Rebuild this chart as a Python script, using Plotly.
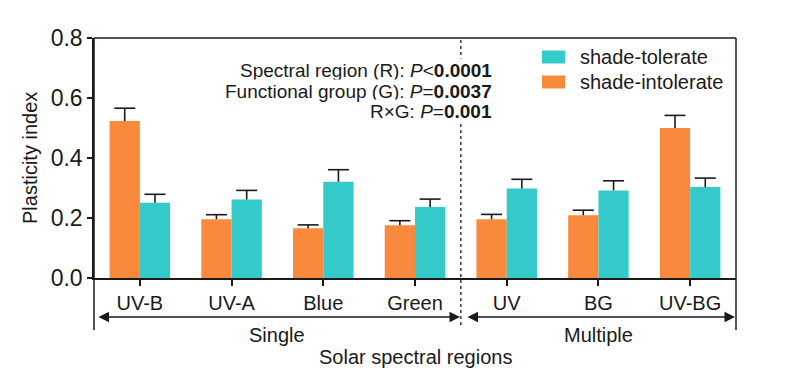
import plotly.graph_objects as go

# ---------------- data ----------------
categories = ["UV-B", "UV-A", "Blue", "Green", "UV", "BG", "UV-BG"]
intolerant = [0.523, 0.196, 0.166, 0.176, 0.196, 0.209, 0.500]
intolerant_err = [0.043, 0.015, 0.011, 0.015, 0.016, 0.017, 0.042]
tolerant = [0.251, 0.262, 0.321, 0.237, 0.298, 0.292, 0.303]
tolerant_err = [0.028, 0.030, 0.040, 0.026, 0.031, 0.032, 0.030]
series_names = ["shade-tolerate", "shade-intolerate"]
groups = ["Single", "Multiple"]
group_sizes = [4, 3]
y_ticks = [0.0, 0.2, 0.4, 0.6, 0.8]
stats_lines = [
    "Spectral region (R): <i>P</i>&lt;<b>0.0001</b>",
    "Functional group (G): <i>P</i>=<b>0.0037</b>",
    "R×G: <i>P</i>=<b>0.001</b>",
]

# ---------------- style ----------------
OFF = 8  # page body margin in the browser
W, H = 800 - OFF, 388 - OFF
ML, MR, MT, MB = 94 - OFF, 64, 38 - OFF, 110
PW, PH = W - ML - MR, H - MT - MB
ORANGE = "#F98A3D"
TEAL = "#35CACA"
INK = "#1a1a1a"
FONT = "Liberation Sans, Arial, sans-serif"
BW = 0.33

def px(x):  # screen pixel -> paper x
    return (x - OFF - ML) / PW

def py(y):  # screen pixel -> paper y
    return (H - MB - (y - OFF)) / PH

xs = list(range(len(categories)))
n = len(categories)

fig = go.Figure()
series = [
    (intolerant, intolerant_err, ORANGE, -BW, series_names[1]),
    (tolerant, tolerant_err, TEAL, 0.0, series_names[0]),
]
for vals, errs, col, off, nm in series:
    fig.add_trace(go.Bar(
        x=xs, y=vals, width=BW, offset=off, name=nm, showlegend=False,
        marker=dict(color=col, line=dict(width=0)),
        error_y=dict(type="data", symmetric=False, array=errs, arrayminus=[0] * n,
                     color=INK, thickness=1.6, width=0),
    ))
# error-bar caps
for vals, errs, col, off, nm in series:
    fig.add_trace(go.Scatter(
        x=[x + off + BW / 2 for x in xs], y=[v + e for v, e in zip(vals, errs)],
        mode="markers", showlegend=False, hoverinfo="skip",
        marker=dict(symbol="line-ew", size=15, line=dict(color=INK, width=1.6)),
    ))

shapes = []
ybot = py(330)
# left / right frame lines extended below the axis
shapes.append(dict(type="line", xref="paper", yref="paper", x0=0, x1=0, y0=ybot, y1=1, line=dict(color=INK, width=1.5)))
shapes.append(dict(type="line", xref="paper", yref="paper", x0=1, x1=1, y0=ybot, y1=1, line=dict(color=INK, width=1.5)))
shapes.append(dict(type="line", xref="paper", yref="paper", x0=0, x1=1, y0=1, y1=1, line=dict(color=INK, width=1.5)))
# dotted split line
split = group_sizes[0] - 0.5
xsplit = (split + 0.5) / n
shapes.append(dict(type="line", xref="paper", yref="paper", x0=xsplit, x1=xsplit, y0=py(325), y1=1,
                   line=dict(color=INK, width=1.3, dash="dot")))

annotations = []
# legend (custom swatches)
for i, (nm, col) in enumerate(zip(series_names, [TEAL, ORANGE])):
    yc = 57 + 25 * i
    shapes.append(dict(type="rect", xref="paper", yref="paper", x0=px(542), x1=px(565), y0=py(yc + 6.5),
                       y1=py(yc - 6.5), fillcolor=col, line=dict(width=0)))
    annotations.append(dict(xref="paper", yref="paper", x=px(578), y=py(yc), xanchor="left", yanchor="middle",
                            text=nm, showarrow=False, font=dict(size=20, color=INK, family=FONT)))
# stats text (white background hides the dotted line behind it)
for i, t in enumerate(stats_lines):
    annotations.append(dict(xref="paper", yref="paper", x=px(494), y=py(71 + 20.3 * i), xanchor="right",
                            yanchor="middle", text=t, showarrow=False, bgcolor="white", borderpad=1,
                            font=dict(size=19, color=INK, family=FONT)))
# group arrows
ya = py(317)
for x_head, x_tail in [(460, 97), (735, 466)]:
    annotations.append(dict(xref="paper", yref="paper", x=px(x_head), y=ya, ax=x_tail - x_head, ay=0,
                            axref="pixel", ayref="pixel", text="", showarrow=True, arrowhead=2,
                            arrowside="end+start", arrowsize=1.4, arrowwidth=1.5, arrowcolor=INK,
                            standoff=0, startstandoff=0))
# group labels
start = 0
for g, s in zip(groups, group_sizes):
    c = (start + (start + s - 1)) / 2
    annotations.append(dict(xref="x", yref="paper", x=c, y=py(335), text=g, showarrow=False,
                            font=dict(size=20, color=INK, family=FONT), yanchor="middle"))
    start += s
# axis titles
annotations.append(dict(xref="paper", yref="paper", x=0.5, y=py(357), text="Solar spectral regions", showarrow=False,
                        font=dict(size=20, color=INK, family=FONT), yanchor="middle"))
annotations.append(dict(xref="paper", yref="paper", x=px(30), y=0.5, text="Plasticity index", showarrow=False,
                        textangle=-90, font=dict(size=20, color=INK, family=FONT), xanchor="center", yanchor="middle"))

fig.update_layout(
    width=W, height=H,
    margin=dict(l=ML, r=MR, t=MT, b=MB, pad=0, autoexpand=False),
    plot_bgcolor="white", paper_bgcolor="white",
    barmode="overlay",
    font=dict(family=FONT, color=INK),
    showlegend=False,
    shapes=shapes,
    annotations=annotations,
    xaxis=dict(range=[-0.5, n - 0.5], tickvals=xs, ticktext=categories, showline=True, linecolor=INK, linewidth=1.5,
               ticks="outside", ticklen=6, tickwidth=1.5, tickcolor=INK, showgrid=False, zeroline=False,
               tickfont=dict(size=20, color=INK, family=FONT), fixedrange=True, automargin=False),
    yaxis=dict(range=[0, 0.8], tickvals=y_ticks, tickformat=".1f", showline=True, linecolor=INK, linewidth=1.5,
               ticks="outside", ticklen=5, tickwidth=1.5, tickcolor=INK, showgrid=False, zeroline=False,
               tickfont=dict(size=23, color=INK, family=FONT), fixedrange=True, automargin=False),
)

fig.write_html("out.html")
